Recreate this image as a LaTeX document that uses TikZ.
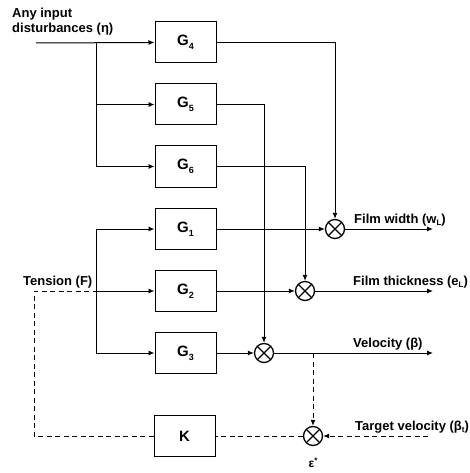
\documentclass[tikz,border=0pt]{standalone}
\usepackage{fontspec}
\setmainfont{Liberation Sans}
\usetikzlibrary{arrows.meta}
\newcommand{\mysub}[1]{\raisebox{-0.35ex}{\fontsize{8}{8}\selectfont #1}}
\newcommand{\gsub}[1]{\raisebox{-0.5ex}{\fontsize{9}{9}\selectfont #1}}
\begin{document}
\begin{tikzpicture}[x=1pt,y=-1pt,
  blk/.style={draw,line width=1pt,minimum width=61pt,minimum height=41pt,inner sep=0pt,font=\fontsize{15}{15}\selectfont\bfseries},
  sumj/.style={draw,circle,line width=1.3pt,minimum size=19pt,inner sep=0pt,
     path picture={\draw[line width=1.1pt] (path picture bounding box.north west) -- (path picture bounding box.south east)
       (path picture bounding box.north east) -- (path picture bounding box.south west);}},
  wire/.style={line width=1pt},
  arr/.style={wire,-{Latex[length=6pt,width=5pt]}},
  dwire/.style={line width=1pt,dash pattern=on 5pt off 3.5pt},
  darr/.style={dwire,-{Latex[length=6pt,width=5pt]}},
  lbl/.style={font=\fontsize{13}{14}\selectfont\bfseries,inner sep=0pt,anchor=base west}]
\useasboundingbox (0,0) rectangle (469,473);
% blocks
\node[blk] (g4) at (185.5,42.5) {G\gsub{4}};
\node[blk] (g5) at (185.5,104.5) {G\gsub{5}};
\node[blk] (g6) at (185.5,166.5) {G\gsub{6}};
\node[blk] (g1) at (185.5,229) {G\gsub{1}};
\node[blk] (g2) at (185.5,291) {G\gsub{2}};
\node[blk] (g3) at (185.5,353) {G\gsub{3}};
\node[blk] (k) at (184.5,436) {K};
% junctions
\node[sumj] (s1) at (335,229) {};
\node[sumj] (s2) at (305,291) {};
\node[sumj] (s3) at (264,353) {};
\node[sumj] (s4) at (313,436) {};
% coordinates
\coordinate (in0) at (36,43);
\coordinate (b1) at (96,43);
\coordinate (t1) at (96,229);
\coordinate (t2) at (96,291);
\coordinate (t3) at (96,353);
\coordinate (fb) at (34,436);
\coordinate (fb2) at (34,291);
\coordinate (o1) at (433,229);
\coordinate (o2) at (433,291);
\coordinate (o3) at (433,353);
\coordinate (tap) at (313,353);
\coordinate (tv) at (428,436);
% inputs
\draw[arr] (in0) -- (g4.west);
\draw[wire] (b1) -- (b1 |- g6);
\draw[arr] (b1 |- g5) -- (g5.west);
\draw[arr] (b1 |- g6) -- (g6.west);
\draw[arr] (t1) -- (g1.west);
\draw[wire] (t1) -- (t3);
\draw[arr] (t2) -- (g2.west);
\draw[arr] (t3) -- (g3.west);
% disturbance outputs
\draw[arr] (g4.east) -| (s1.north);
\draw[arr] (g5.east) -| (s3.north);
\draw[arr] (g6.east) -| (s2.north);
% main outputs
\draw[arr] (g1.east) -- (s1.west);
\draw[arr] (g2.east) -- (s2.west);
\draw[arr] (g3.east) -- (s3.west);
\draw[arr] (s1.east) -- (o1);
\draw[arr] (s2.east) -- (o2);
\draw[arr] (s3.east) -- (o3);
% feedback
\draw[darr] (tap) -- (s4.north);
\draw[darr] (tv) -- (s4.east);
\draw[dwire] (s4.west) -- (k.east);
\draw[dwire] (k.west) -- (fb) -- (fb2) -- (t2);
% labels
\node[lbl] at (12,18) {Any input};
\node[lbl] at (12,33) {disturbances (η)};
\node[lbl] at (23,285) {Tension (F)};
\node[lbl] at (354,223) {Film width (w\mysub{L})};
\node[lbl] at (353,285) {Film thickness (e\mysub{L})};
\node[lbl] at (353,347) {Velocity (β)};
\node[lbl] at (355,430) {Target velocity (β\mysub{t})};
\node[font=\fontsize{12}{12}\selectfont\bfseries,inner sep=0pt] (eps) at (313,463) {ε\raisebox{0.6ex}{\fontsize{8}{8}\selectfont *}};
\end{tikzpicture}
\end{document}
